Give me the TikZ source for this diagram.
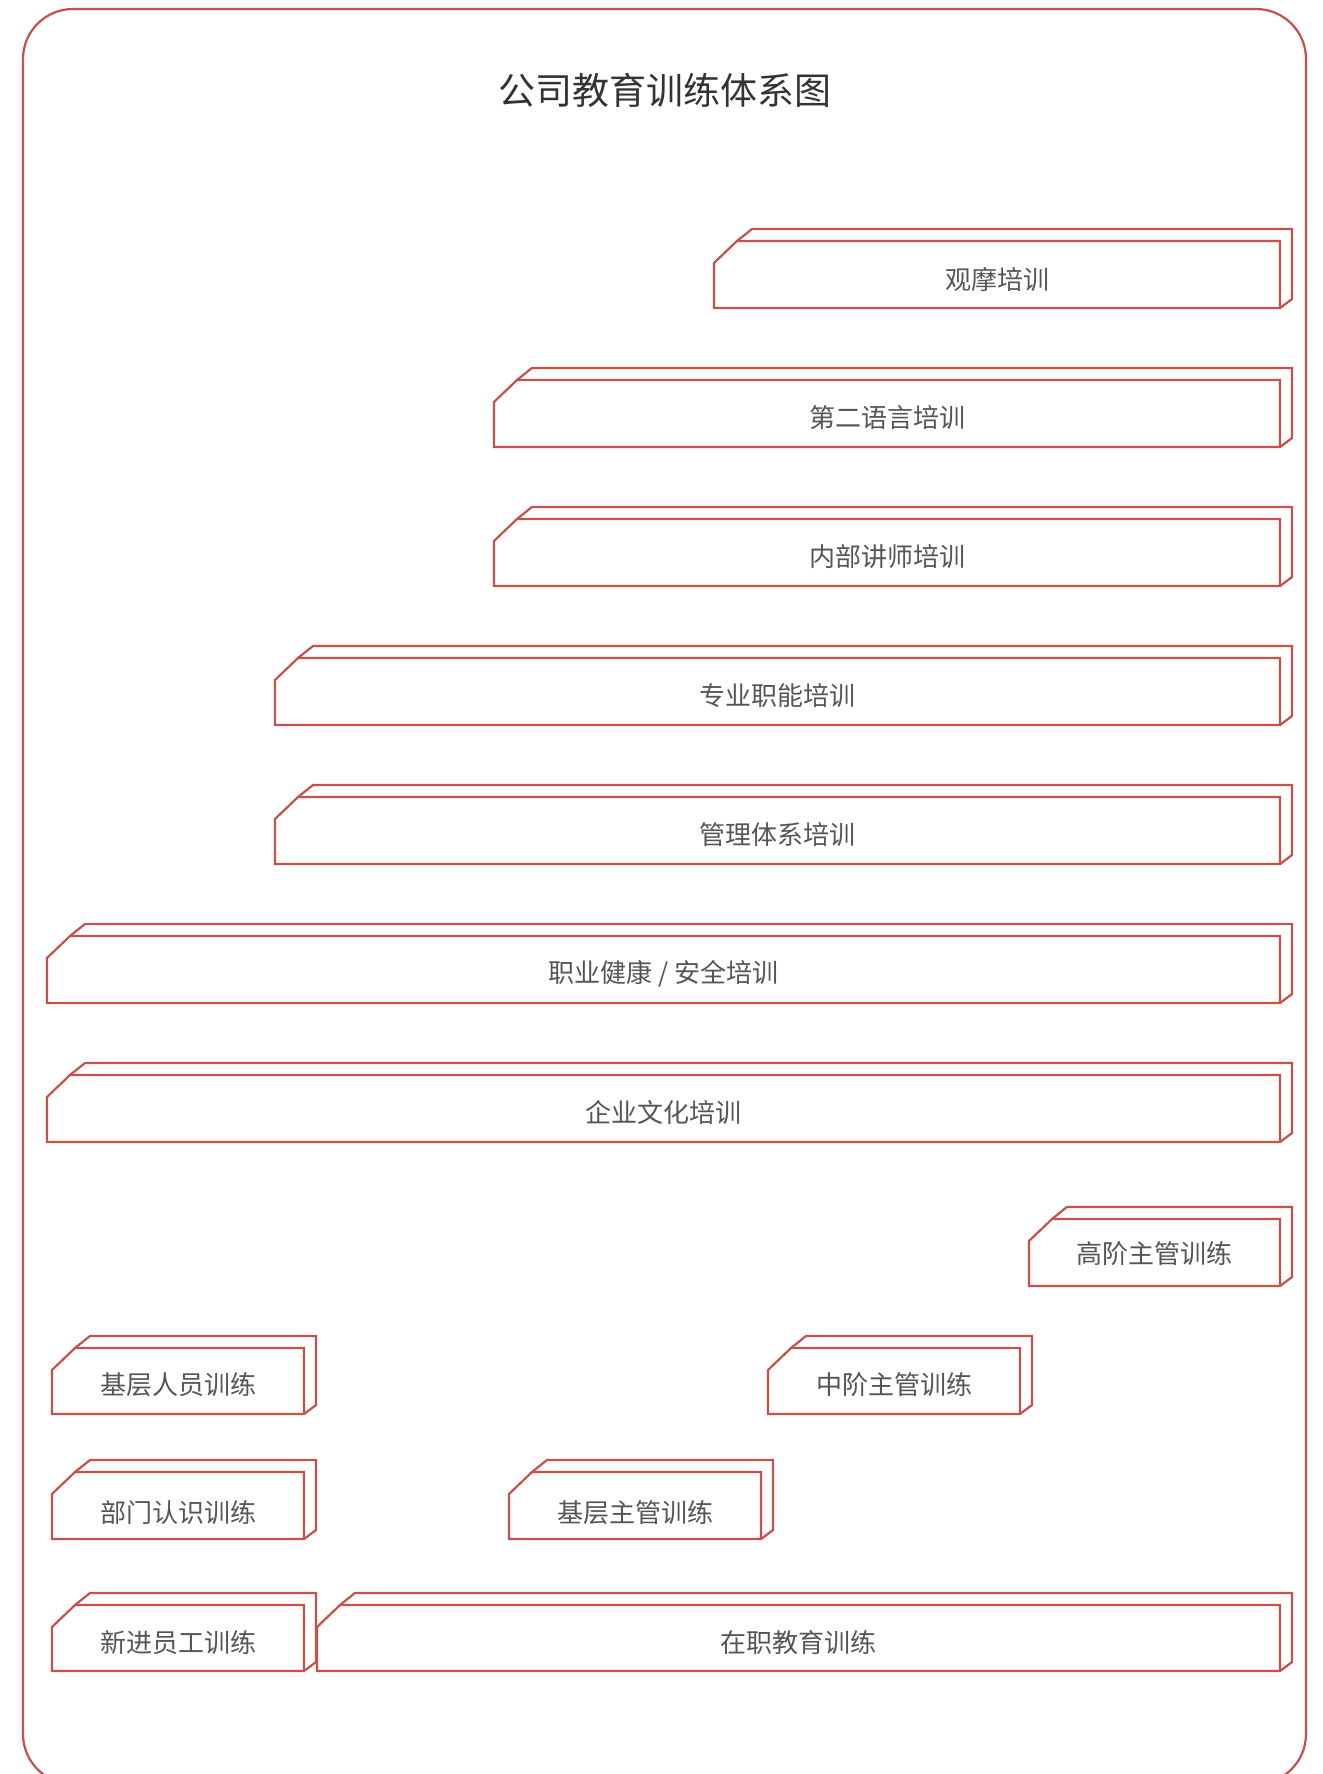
\documentclass[tikz,border=0pt]{standalone}
\usepackage{fontspec}
\newfontfamily\cjk{Noto Sans CJK SC}
\definecolor{boxred}{HTML}{C5524A}
\definecolor{txtgray}{HTML}{555555}
\definecolor{titlegray}{HTML}{333333}
\newcommand\trainbox[7][0]{%
  \draw[boxline] ({#3},{#5+22}) -- ({#3+23},{#5}) -- ({#4},{#5}) -- ({#4},{#6}) -- ({#3},{#6}) -- cycle;
  \draw[boxline] ({#3+23},{#5}) -- ({#3+38},{#5-12}) -- ({#4+12},{#5-12}) -- ({#4+12},{#6-9}) -- ({#4},{#6});
  \node[boxtext] (#2) at ({(#3+#4)/2},{(#5+#6)/2+4+#1}) {#7};
}
\begin{document}
\begin{tikzpicture}[x=1pt,y=-1pt,
  boxline/.style={draw=boxred,line width=2.2pt,line join=miter},
  boxtext/.style={font=\cjk\fontsize{26}{30}\selectfont,text=txtgray,inner sep=0pt},
  frame/.style={draw=boxred,line width=2.2pt,rounded corners=50pt}]
\useasboundingbox (0,0) rectangle (1322,1774);
\draw[frame] (23,9) rectangle (1306,1784);
\node[font=\cjk\fontsize{37}{42}\selectfont,text=titlegray,inner sep=0pt] (title) at (665,90) {公司教育训练体系图};
\trainbox[1]{b1}{714}{1280}{241}{308}{观摩培训}
\trainbox{b2}{494}{1280}{380}{447}{第二语言培训}
\trainbox{b3}{494}{1280}{519}{586}{内部讲师培训}
\trainbox{b4}{275}{1280}{658}{725}{专业职能培训}
\trainbox{b5}{275}{1280}{797}{864}{管理体系培训}
\trainbox{b6}{47}{1280}{936}{1003}{职业健康 / 安全培训}
\trainbox{b7}{47}{1280}{1075}{1142}{企业文化培训}
\trainbox[-3]{b8}{1029}{1280}{1219}{1286}{高阶主管训练}
\trainbox{b9}{52}{304}{1348}{1414}{基层人员训练}
\trainbox{b10}{768}{1020}{1348}{1414}{中阶主管训练}
\trainbox[3]{b11}{52}{304}{1472}{1539}{部门认识训练}
\trainbox[3]{b12}{509}{761}{1472}{1539}{基层主管训练}
\trainbox[1]{b13}{52}{304}{1605}{1671}{新进员工训练}
\trainbox[1]{b14}{317}{1280}{1605}{1671}{在职教育训练}
\end{tikzpicture}
\end{document}
